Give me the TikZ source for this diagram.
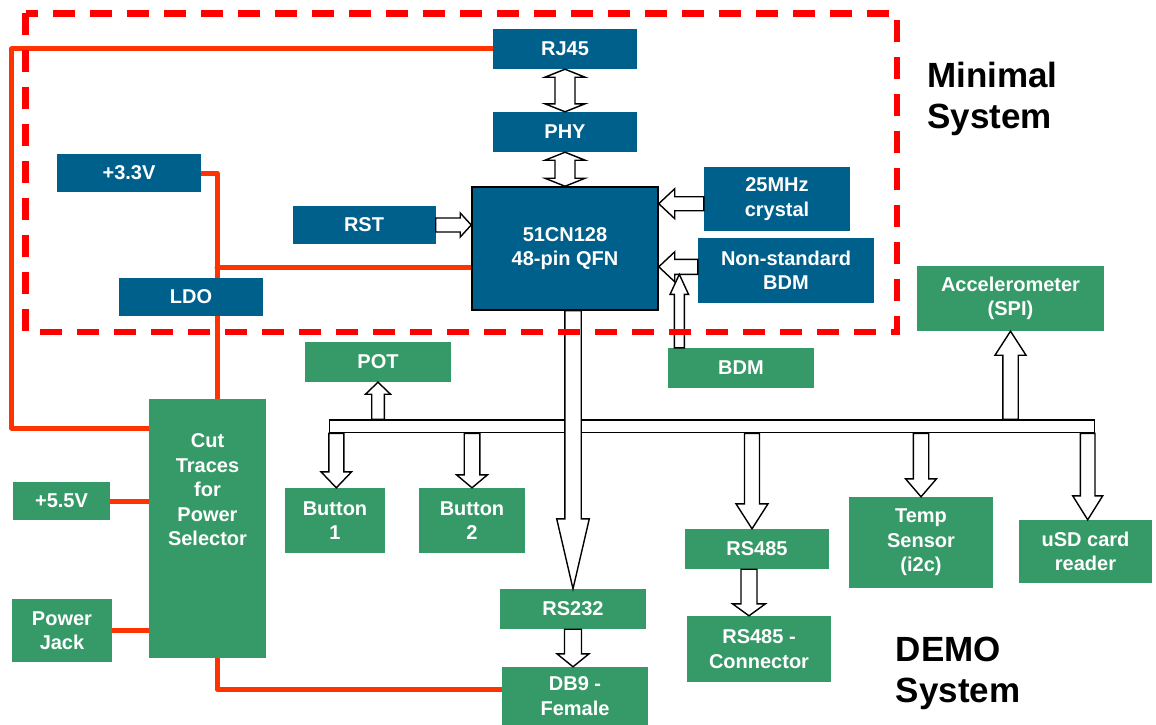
\documentclass[tikz,border=0pt]{standalone}
\usepackage{fontspec}
\setmainfont{Liberation Sans}
\usetikzlibrary{calc,backgrounds}

\definecolor{tiblue}{RGB}{0,96,140}
\definecolor{tigreen}{RGB}{54,154,104}
\definecolor{pwrred}{RGB}{255,51,0}
\definecolor{dashred}{RGB}{255,0,0}

\newcommand{\boxfont}{\bfseries\fontsize{20}{24.5}\selectfont}
\newcommand{\bigfont}{\bfseries\fontsize{35}{41}\selectfont}

% hollow arrow: tail, tip, head length, half shaft, half head
\newcommand{\blockarrow}[5]{%
	\path (#1) coordinate (ba-t) (#2) coordinate (ba-p);
	\coordinate (ba-h) at ($(ba-p)!#3!(ba-t)$);
	\draw[hollow] ($(ba-t)!#4!90:(ba-p)$) -- ($(ba-h)!#4!90:(ba-p)$) -- ($(ba-h)!#5!90:(ba-p)$) -- (ba-p)
		-- ($(ba-h)!#5!-90:(ba-p)$) -- ($(ba-h)!#4!-90:(ba-p)$) -- ($(ba-t)!#4!-90:(ba-p)$) -- cycle;}
% same, heads at both ends
\newcommand{\dblarrow}[5]{%
	\path (#1) coordinate (ba-t) (#2) coordinate (ba-p);
	\coordinate (ba-a) at ($(ba-t)!#3!(ba-p)$);
	\coordinate (ba-h) at ($(ba-p)!#3!(ba-t)$);
	\draw[hollow] (ba-t) -- ($(ba-a)!#5!90:(ba-p)$) -- ($(ba-a)!#4!90:(ba-p)$) -- ($(ba-h)!#4!90:(ba-p)$)
		-- ($(ba-h)!#5!90:(ba-p)$) -- (ba-p) -- ($(ba-h)!#5!-90:(ba-p)$) -- ($(ba-h)!#4!-90:(ba-p)$)
		-- ($(ba-a)!#4!-90:(ba-p)$) -- ($(ba-a)!#5!-90:(ba-p)$) -- cycle;}

\begin{document}
\begin{tikzpicture}[x=1pt, y=-1pt,
	blk/.style={fill=tiblue, text=white, font=\boxfont, align=center, inner sep=0pt},
	grn/.style={fill=tigreen, text=white, font=\boxfont, align=center, inner sep=0pt},
	grnlbl/.style={text=white, font=\boxfont, align=center, inner sep=0pt},
	bus/.style={draw=black, fill=white, line width=1.4pt, inner sep=0pt},
	hollow/.style={draw=black, fill=white, line width=1.4pt, line join=miter},
	pwr/.style={draw=pwrred, line width=5pt, line cap=round, line join=round},
	minbox/.style={draw=dashred, line width=6.5pt, dash pattern=on 22pt off 15pt},
	title/.style={font=\bigfont, align=left, inner sep=0pt, anchor=north west}]
	\useasboundingbox (0,0) rectangle (1156,725);

	% minimal system
	\node[blk, minimum width=144pt, minimum height=40pt] (rj) at (565,49) {RJ45};
	\node[blk, minimum width=144pt, minimum height=40pt] (phy) at (565,132) {PHY};
	\node[blk, minimum width=144pt, minimum height=38pt] (vin) at (129,173) {+3.3V};
	\node[blk, minimum width=143pt, minimum height=38pt] (rst) at (364,225) {RST};
	\node[blk, minimum width=144pt, minimum height=38pt] (ldo) at (191,297) {LDO};
	\node[blk, draw=black, line width=1.5pt, minimum width=186pt, minimum height=123pt] (mcu) at (565,248.5) {51CN128\\48-pin QFN};
	\node[blk, minimum width=146pt, minimum height=64pt] (xtal) at (777,199) {25MHz\\crystal};
	\node[blk, minimum width=176pt, minimum height=65pt] (nsbdm) at (786,270.5) {Non-standard\\BDM};

	% demo system
	\node[grn, minimum width=187pt, minimum height=65pt] (accel) at (1010.5,298.5) {Accelerometer\\(SPI)};
	\node[grn, minimum width=146pt, minimum height=40pt] (pot) at (378,362) {POT};
	\node[grn, minimum width=146pt, minimum height=40pt] (bdm) at (741,368) {BDM};
	\node[grn, minimum width=117pt, minimum height=259pt,
		label={[grnlbl, anchor=north, yshift=-35pt]north:Cut\\Traces\\for\\Power\\Selector}] (cut) at (207.5,528.5) {};
	\node[grn, minimum width=100pt, minimum height=65pt] (btnA) at (335,520.5) {Button\\1};
	\node[grn, minimum width=106pt, minimum height=65pt] (btnB) at (472,520.5) {Button\\2};
	\node[grn, minimum width=97pt, minimum height=38pt] (vfive) at (61.5,501) {+5.5V};
	\node[grn, minimum width=100pt, minimum height=63pt] (jack) at (62,630.5) {Power\\Jack};
	\node[grn, minimum width=146pt, minimum height=40pt] (rsA) at (573,609) {RS232};
	\node[grn, minimum width=146pt, minimum height=58pt] (db) at (575,696) {DB9 -\\Female};
	\node[grn, minimum width=144pt, minimum height=40pt] (rsB) at (757,549) {RS485};
	\node[grn, minimum width=144pt, minimum height=66pt] (rsconn) at (759,649) {RS485 -\\Connector};
	\node[grn, minimum width=144pt, minimum height=91pt] (temp) at (921,542.5) {Temp\\Sensor\\(i2c)};
	\node[grn, minimum width=133pt, minimum height=63pt] (usd) at (1085.5,551.5) {uSD card\\reader};

	% power wiring, behind the boxes
	\coordinate (cL) at (11.5,428);
	\coordinate (tap) at (217,267);
	\begin{scope}[on background layer]
		\draw[pwr] (rj.west) -| (cL) -- (cL -| cut.west);
		\draw[pwr] (vin.east) -| (tap |- cut.north);
		\draw[pwr] (tap) -- (tap -| mcu.west);
		\draw[pwr] (vfive.east) -- (vfive.east -| cut.west);
		\draw[pwr] (jack.east) -- (jack.east -| cut.west);
		\draw[pwr] (cut.south -| tap) |- ([yshift=7pt]db.west);
	\end{scope}

	% buses
	\node[bus, minimum width=234.8pt, minimum height=12.7pt] (busL) at (446.9,426.3) {};
	\node[bus, minimum width=513.6pt, minimum height=12.7pt] (busR) at (837.5,426.3) {};

	% block arrows
	\dblarrow{rj.south}{phy.north}{8pt}{10pt}{20pt}
	\dblarrow{phy.south}{mcu.north}{8pt}{10pt}{20pt}
	\blockarrow{rst.east}{rst.east -| mcu.west}{11pt}{7pt}{12pt}
	\coordinate (xt) at ([yshift=-4.7pt]xtal.west);
	\blockarrow{xt}{xt -| mcu.east}{16pt}{7pt}{15pt}
	\coordinate (nb) at ([yshift=3.7pt]nsbdm.west);
	\blockarrow{nb}{nb -| mcu.east}{16pt}{7.5pt}{15pt}
	\coordinate (bd) at ([xshift=-61.7pt]bdm.north);
	\coordinate (bdt) at ([yshift=-7.5pt]nb);
	\blockarrow{bd}{bd |- bdt}{20pt}{5pt}{9.2pt}
	\blockarrow{mcu.south -| rsA.north}{rsA.north}{70pt}{8.2pt}{16.3pt}
	\blockarrow{rsA.south}{rsA.south |- db.north}{13pt}{8.5pt}{16pt}
	\blockarrow{pot.south |- busL.north}{pot.south}{12pt}{6.3pt}{12.5pt}
	\coordinate (ba) at ([xshift=7.5pt]busL.south west);
	\blockarrow{ba}{ba |- btnA.north}{16pt}{7.5pt}{15.3pt}
	\blockarrow{btnB.north |- busL.south}{btnB.north}{13pt}{7.8pt}{15.5pt}
	\coordinate (rb) at ([xshift=-5pt]rsB.north);
	\blockarrow{rb |- busR.south}{rb}{25pt}{7.5pt}{16pt}
	\coordinate (rc) at ([xshift=-8pt]rsB.south);
	\blockarrow{rc}{rc |- rsconn.north}{12pt}{8pt}{16.5pt}
	\blockarrow{temp.north |- busR.south}{temp.north}{18pt}{7.7pt}{15.5pt}
	\coordinate (ub) at ([xshift=-7.3pt]busR.south east);
	\blockarrow{ub}{ub |- usd.north}{24pt}{7.3pt}{15pt}
	\blockarrow{accel.south |- busR.north}{accel.south}{24pt}{7.7pt}{15.5pt}

	% frame and titles
	\draw[minbox] (25.6,13.3) rectangle (897,332);
	\node[title] (mintxt) at (927,62) {Minimal\\System};
	\node[title] (demotxt) at (895.6,637) {DEMO\\System};
\end{tikzpicture}
\end{document}
